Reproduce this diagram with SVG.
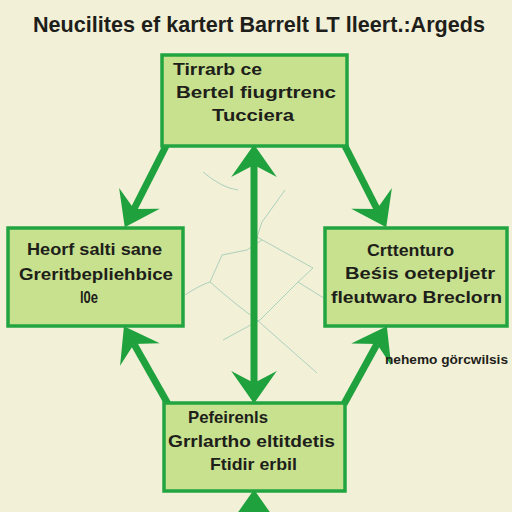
<svg xmlns="http://www.w3.org/2000/svg" width="512" height="512" viewBox="0 0 512 512">
<style>
.box{fill:#c7e18e;stroke:#22a540;stroke-width:3.5}
.t{font-family:"Liberation Sans",Arial,sans-serif;font-weight:bold;font-size:16.5px;fill:#1e1e1a}
.conn{stroke:#1fa23e;stroke-width:7;fill:none}
.faint{stroke:#8fc4b0;stroke-width:0.9;fill:none;opacity:0.8}
</style>
<defs>
<marker id="ah" markerUnits="userSpaceOnUse" markerWidth="60" markerHeight="60" viewBox="-15 -25 40 50" refX="0" refY="0" orient="auto-start-reverse" overflow="visible">
<path d="M17,0 L-10,-19 L0,0 L-10,19 Z" fill="#1fa23e"/>
</marker>
</defs>
<rect width="512" height="512" fill="#f3f0d8"/>
<text class="t" x="33" y="32" textLength="452" lengthAdjust="spacingAndGlyphs" style="font-size:22px">Neucilites ef kartert Barrelt LT lleert.:Argeds</text>
<g id="faint-lines">
<path class="faint" d="M203,172 Q222,188 238,190"/>
<path class="faint" d="M285,190 L262,222 L257,237"/>
<path class="faint" d="M185,295 Q200,285 210,282 L222,255 L247,250 L262,240"/>
<path class="faint" d="M257,237 L313,268 L298,282 L260,320 L223,340"/>
<path class="faint" d="M210,282 Q230,300 257,320 L317,373"/>
<path class="faint" d="M298,282 L327,300"/>
</g>
<g id="connectors">
<line class="conn" x1="166" y1="146" x2="134" y2="209" marker-end="url(#ah)"/>
<line class="conn" x1="345" y1="146" x2="377" y2="209" marker-end="url(#ah)"/>
<line class="conn" x1="254" y1="165" x2="254" y2="383" marker-start="url(#ah)" marker-end="url(#ah)"/>
<line class="conn" x1="168" y1="404" x2="134" y2="344" marker-end="url(#ah)"/>
<line class="conn" x1="344" y1="404" x2="377" y2="344" marker-end="url(#ah)"/>
<line class="conn" x1="254" y1="540" x2="254" y2="510" marker-end="url(#ah)"/>
</g>
<g id="node-top">
<rect class="box" x="162" y="55" width="185" height="91"/>
<text class="t" x="173" y="75" textLength="89" lengthAdjust="spacingAndGlyphs">Tirrarb ce</text>
<text class="t" x="176" y="98" textLength="160" lengthAdjust="spacingAndGlyphs">Bertel fiugrtrenc</text>
<text class="t" x="212" y="121" textLength="82" lengthAdjust="spacingAndGlyphs">Tucciera</text>
</g>
<g id="node-left">
<rect class="box" x="8" y="228" width="175" height="98"/>
<text class="t" x="27" y="255" textLength="135" lengthAdjust="spacingAndGlyphs">Heorf salti sane</text>
<text class="t" x="19" y="280" textLength="154" lengthAdjust="spacingAndGlyphs">Greritbepliehbice</text>
<text class="t" x="80" y="303" textLength="18" lengthAdjust="spacingAndGlyphs">l0e</text>
</g>
<g id="node-right">
<rect class="box" x="325" y="228" width="182" height="98"/>
<text class="t" x="367" y="256" textLength="87" lengthAdjust="spacingAndGlyphs">Crttenturo</text>
<text class="t" x="345" y="279" textLength="150" lengthAdjust="spacingAndGlyphs">Beśis oetepljetr</text>
<text class="t" x="331" y="303" textLength="171" lengthAdjust="spacingAndGlyphs">fleutwaro Breclorn</text>
</g>
<g id="node-bottom">
<rect class="box" x="164" y="403" width="181" height="88"/>
<text class="t" x="188" y="423" textLength="80" lengthAdjust="spacingAndGlyphs">Pefeirenls</text>
<text class="t" x="168" y="447" textLength="167" lengthAdjust="spacingAndGlyphs">Grrlartho eltitdetis</text>
<text class="t" x="210" y="470" textLength="87" lengthAdjust="spacingAndGlyphs">Ftidir erbil</text>
</g>
<text class="t" x="385" y="364" textLength="123" lengthAdjust="spacingAndGlyphs" style="font-size:12px">nehemo görcwilsis</text>
</svg>
